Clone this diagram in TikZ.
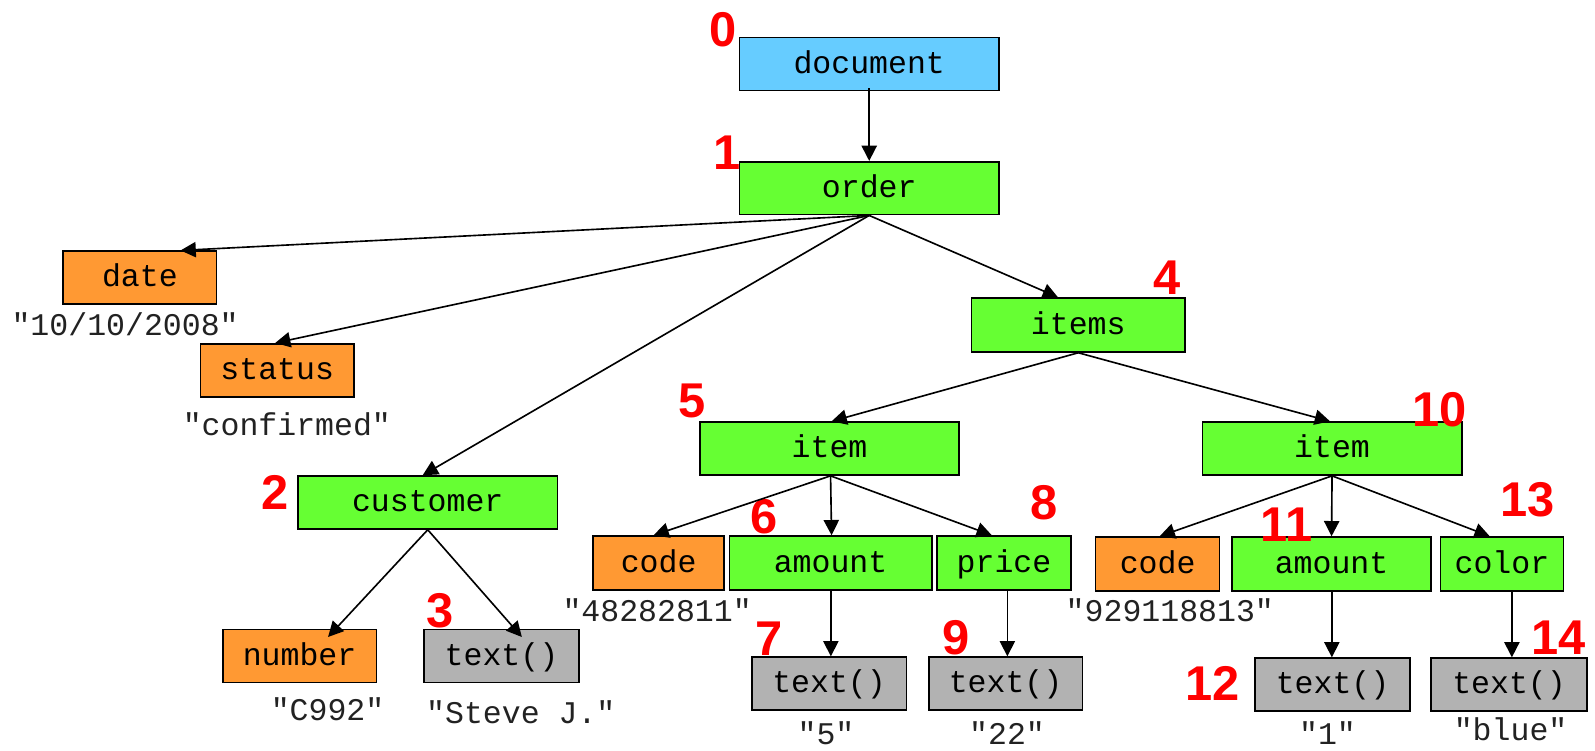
\documentclass[tikz,border=0pt]{standalone}
\usepackage{fontspec}
\newfontfamily\monof{Liberation Mono}
\newfontfamily\numf{Liberation Sans}
\usetikzlibrary{arrows.meta}
\definecolor{cblue}{HTML}{66CCFF}
\definecolor{cgreen}{HTML}{66FF33}
\definecolor{corange}{HTML}{FF9933}
\definecolor{cgray}{HTML}{B2B2B2}
\definecolor{cred}{HTML}{FF0000}
\definecolor{ctext}{HTML}{222222}
\tikzset{
  box/.style={draw=black, line width=1.6pt, minimum height=52pt, inner sep=0pt,
    font=\monof\fontsize{31}{31}\selectfont, text height=22pt, text depth=4pt},
  bluebox/.style={box, fill=cblue},
  greenbox/.style={box, fill=cgreen},
  orangebox/.style={box, fill=corange},
  graybox/.style={box, fill=cgray},
  val/.style={font=\monof\fontsize{31}{31}\selectfont, text=ctext, inner sep=0pt, text height=22pt, text depth=2pt},
  num/.style={font=\numf\bfseries\fontsize{48}{48}\selectfont, text=cred, inner sep=0pt},
  conn/.style={line width=1.6pt, -{Triangle[length=15pt,width=15pt]}},
}
\begin{document}
\begin{tikzpicture}[x=1pt,y=-1pt]
\useasboundingbox (0,0) rectangle (1568,738);
% boxes
\node[bluebox, minimum width=255pt] (document) at (854.5,63) {document};
\node[greenbox, minimum width=255pt] (order) at (854.5,185) {order};
\node[orangebox, minimum width=151pt] (date) at (137.5,273) {date};
\node[orangebox, minimum width=151pt] (status) at (272.5,364) {status};
\node[greenbox, minimum width=255pt] (customer) at (420.5,494) {customer};
\node[greenbox, minimum width=210pt, minimum height=53pt] (items) at (1060,319.5) {items};
\node[greenbox, minimum width=255pt] (itemA) at (815.5,441) {item};
\node[greenbox, minimum width=255pt] (itemB) at (1309.5,441) {item};
\node[orangebox, minimum width=129pt, minimum height=53pt] (codeA) at (647.5,553.5) {code};
\node[greenbox, minimum width=199pt, minimum height=53pt] (amountA) at (816.5,553.5) {amount};
\node[greenbox, minimum width=132pt, minimum height=53pt] (price) at (987,553.5) {price};
\node[orangebox, minimum width=122pt, minimum height=53pt] (codeB) at (1138,554.5) {code};
\node[greenbox, minimum width=196pt, minimum height=53pt] (amountB) at (1309,554.5) {amount};
\node[greenbox, minimum width=121pt, minimum height=53pt] (color) at (1476.5,554.5) {color};
\node[orangebox, minimum width=151pt] (number) at (294.5,645) {number};
\node[graybox, minimum width=152pt] (textC) at (493,645) {text()};
\node[graybox, minimum width=152pt] (textA) at (815,672) {text()};
\node[graybox, minimum width=151pt] (textP) at (988.5,672) {text()};
\node[graybox, minimum width=152pt] (textB) at (1310,673) {text()};
\node[graybox, minimum width=153pt] (textK) at (1483.5,673) {text()};
% values
\node[val] (vdate) at (123,320) {"10/10/2008"};
\node[val] (vstatus) at (282,418) {"confirmed"};
\node[val] (vnumber) at (322,698) {"C992"};
\node[val] (vtextC) at (512,701) {"Steve J."};
\node[val] (vcodeA) at (646,601) {"48282811"};
\node[val] (vtextA) at (812,722) {"5"};
\node[val] (vtextP) at (990,722) {"22"};
\node[val] (vcodeB) at (1150,601) {"929118813"};
\node[val] (vtextB) at (1305,722) {"1"};
\node[val] (vtextK) at (1485,718) {"blue"};
% numbers
\node[num] (n0) at (711,29) {0};
\node[num] (n1) at (715,150) {1};
\node[num] (n2) at (270,484) {2};
\node[num] (n3) at (433,600) {3};
\node[num] (n4) at (1147,273) {4};
\node[num] (n5) at (680,394) {5};
\node[num] (n6) at (751,508) {6};
\node[num] (n7) at (756,628) {7};
\node[num] (n8) at (1026,494) {8};
\node[num] (n9) at (940,627) {9};
\node[num] (n10) at (1415,403) {10};
\node[num] (n11) at (1265,516) {11};
\node[num] (n12) at (1192,672) {12};
\node[num] (n13) at (1502,491) {13};
\node[num] (n14) at (1532,627) {14};
% connectors
\draw[conn] ([yshift=3pt]document.south) -- (order.north);
\draw[conn] (order.south) -- ([xshift=40pt]date.north);
\draw[conn] (order.south) -- ([xshift=-2pt]status.north);
\draw[conn] (order.south) -- ([xshift=-5pt]customer.north);
\draw[conn] (order.south) -- ([xshift=-20pt]items.north);
\draw[conn] (items.south) -- ([xshift=2pt]itemA.north);
\draw[conn] (items.south) -- ([xshift=-2pt]itemB.north);
\draw[conn] (customer.south) -- ([xshift=28pt,yshift=-8pt]number.north);
\draw[conn] (customer.south) -- ([xshift=20pt,yshift=-8pt]textC.north);
\draw[conn] ([xshift=1pt]itemA.south) -- ([xshift=-5pt]codeA.north);
\draw[conn] ([xshift=1pt]itemA.south) -- ([xshift=1pt]amountA.north);
\draw[conn] ([xshift=1pt]itemA.south) -- ([xshift=-12pt]price.north);
\draw[conn] (itemB.south) -- ([xshift=2pt]codeB.north);
\draw[conn] (itemB.south) -- ([xshift=0pt]amountB.north);
\draw[conn] (itemB.south) -- ([xshift=-12pt]color.north);
\draw[conn] ([xshift=0.3pt]amountA.south) -- ([xshift=0.3pt]amountA.south |- textA.north);
\draw[conn] ([xshift=3.3pt]price.south) -- ([xshift=3.3pt]price.south |- textP.north);
\draw[conn] ([xshift=0.3pt]amountB.south) -- ([xshift=0.3pt]amountB.south |- textB.north);
\draw[conn] ([xshift=9.8pt]color.south) -- ([xshift=9.8pt]color.south |- textK.north);
\end{tikzpicture}
\end{document}
